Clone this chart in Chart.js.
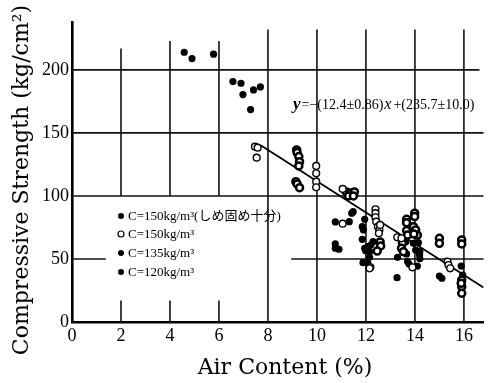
<!DOCTYPE html>
<html>
<head>
<meta charset="utf-8">
<script src="https://cdn.jsdelivr.net/npm/chart.js@4.4.1/dist/chart.umd.min.js"></script>
<style>
html,body{margin:0;padding:0;background:#fff;}
#wrap{width:490px;height:383px;position:relative;}
</style>
</head>
<body>
<div id="wrap"><canvas id="c" width="490" height="383"></canvas></div>
<script>
// ---- data ----
const xTicks = [0, 2, 4, 6, 8, 10, 12, 14, 16];
const yTicks = [0, 50, 100, 150, 200];
const xTitle = 'Air Content (%)';
const yTitle = 'Compressive Strength (kg/cm²)';
const legendLabels = ['C=150kg/m³(しめ固め十分)', 'C=150kg/m³', 'C=135kg/m³', 'C=120kg/m³'];

// C=150 kg/m3, well compacted (filled)
const s150cX = [4.58, 4.90, 5.78, 6.57, 6.90, 6.98, 7.41, 7.69, 7.29];
const s150cY = [214, 209, 212.5, 190.7, 189.4, 180.4, 184.1, 186.5, 168.5];

// C=150 kg/m3 (open)
const s150X = [7.47, 7.58, 7.54, 9.97, 9.97, 9.97, 9.97, 11.05, 11.05, 12.18, 12.15,
  12.39, 12.39, 12.39, 12.42, 12.49, 12.55, 12.58, 12.53, 13.28, 13.90, 13.45,
  15.33, 15.37, 15.44];
const s150Y = [139.1, 138.3, 130.4, 123.8, 118, 111.3, 106.9, 105.6, 78, 43.4, 42.6,
  89.4, 86.3, 83.1, 79.6, 75.6, 73, 77, 70.4, 67.2, 43.4, 66.4,
  47.9, 45.2, 42.6];

// C=135 kg/m3
const s135X = [9.17, 9.19, 9.26, 9.29, 9.26, 9.14, 9.19, 9.29,
  11.20, 11.37, 11.53, 11.29, 11.49,
  12.58, 12.60, 12.46,
  13.66, 13.66, 13.66, 13.70, 13.49, 13.45, 13.53,
  13.99, 13.99, 13.94, 14.03, 14.10, 13.96,
  15.00, 15.00,
  15.91, 15.91, 15.91, 15.91, 15.91, 15.89];
const s135Y = [136.5, 134.4, 131.2, 127.2, 123.8, 111.3, 109.5, 106.6,
  103.2, 102.4, 103.2, 100, 100,
  63.5, 60.3, 56.3,
  81.5, 78.8, 72.5, 69, 62.4, 58.5, 55.8,
  86.3, 83.6, 75.6, 73, 69, 69.8,
  66.4, 62.4,
  65.1, 61.9, 33.3, 28, 22.8, 30.7];

// C=120 kg/m3
const s120X = [11.48, 11.42, 10.75, 11.32, 10.75, 10.75, 10.90,
  11.85, 11.90, 11.85, 11.95, 11.95, 11.99, 11.88, 12.08, 12.15, 12.08, 12.20, 12.29, 12.15,
  13.29, 13.27, 13.63, 13.66, 13.70, 13.76,
  13.94, 14.03, 14.14, 14.20, 14.19, 14.20, 14.10,
  15.00, 15.10, 15.89, 15.95];
const s120Y = [87.5, 86.3, 79.4, 79.6, 61.9, 58.5, 57.7,
  75.6, 73, 65.6, 81.5, 58.5, 56.6, 47.1, 46.6, 51.3, 59.8, 61.1, 63.7, 55.8,
  51.3, 35.2, 63.7, 54, 47.9, 46,
  62.4, 57.1, 62.9, 55.8, 53.2, 50.2, 44.4,
  36.5, 34.7, 44.4, 37.3];

// regression y = -(12.4±0.86)x + (235.7±10.0)
const regSlope = -12.4;
const regIntercept = 235.7;
const regX = [7.7, 16.8];
const equationParts = ['y', '=−(12.4±0.86)', 'x', '+(235.7±10.0)'];

// ---- build ----
const pts = (xs, ys) => xs.map((x, i) => ({x: x, y: ys[i]}));
const SERIF = '"Liberation Serif", "DejaVu Serif", serif';
const TITLEF = '"DejaVu Serif", serif';

const gridPlugin = {
  id: 'grid',
  beforeDatasetsDraw(chart) {
    const ctx = chart.ctx, xs = chart.scales.x, ys = chart.scales.y;
    const ca = chart.chartArea;
    const X = v => xs.getPixelForValue(v), Y = v => ys.getPixelForValue(v);
    ctx.save();
    ctx.strokeStyle = '#111';
    ctx.lineWidth = 1.6;
    const seg = (x1, y1, x2, y2) => { ctx.beginPath(); ctx.moveTo(x1, y1); ctx.lineTo(x2, y2); ctx.stroke(); };
    // horizontal
    seg(ca.left, Y(200), ca.right - 4, Y(200));
    seg(ca.left, Y(150), ca.right, Y(150));
    seg(ca.left, Y(100), ca.right, Y(100));
    seg(ca.left, Y(50), X(1.38), Y(50));
    seg(X(8.95), Y(50), ca.right, Y(50));
    // vertical
    xTicks.forEach(v => {
      if (v === 0) return;
      if (v <= 6) {
        seg(X(v), Y(223 + (v === 2 ? -6 : 0)), X(v), Y(100));
        seg(X(v), Y(17), X(v), ca.bottom);
      } else {
        seg(X(v), Y(232), X(v), ca.bottom);
      }
    });
    ctx.restore();
  },
  afterDatasetsDraw(chart) {
    const ctx = chart.ctx;
    ctx.save();
    // legend
    const lx = 121, rows = [216, 234, 253, 272];
    ctx.textBaseline = 'middle';
    ctx.fillStyle = '#000';
    rows.forEach((ry, i) => {
      ctx.beginPath();
      ctx.arc(lx, ry, 3, 0, Math.PI * 2);
      if (i === 1) { ctx.fillStyle = '#fff'; ctx.fill(); ctx.lineWidth = 1.2; ctx.strokeStyle = '#000'; ctx.stroke(); }
      else { ctx.fillStyle = '#000'; ctx.fill(); }
      ctx.fillStyle = '#000';
      ctx.font = '13px ' + SERIF + ', "Noto Sans CJK JP"';
      ctx.fillText(legendLabels[i], lx + 7, ry + 1);
    });
    // equation
    let ex = 293; const ey = 109;
    ctx.textBaseline = 'alphabetic';
    ctx.font = 'italic bold 17px ' + SERIF;
    ctx.fillText(equationParts[0], ex, ey); ex += ctx.measureText(equationParts[0]).width + 1;
    ctx.font = '14px ' + SERIF;
    ctx.fillText(equationParts[1], ex, ey); ex += ctx.measureText(equationParts[1]).width + 1;
    ctx.font = 'italic 16px ' + SERIF;
    ctx.fillText(equationParts[2], ex, ey); ex += ctx.measureText(equationParts[2]).width + 2;
    ctx.font = '14px ' + SERIF;
    ctx.fillText(equationParts[3], ex, ey);
    // axis titles
    ctx.textAlign = 'center';
    ctx.textBaseline = 'middle';
    ctx.font = '22px ' + TITLEF;
    ctx.fillText(xTitle, 285, 368);
    ctx.translate(22, 180);
    ctx.rotate(-Math.PI / 2);
    ctx.font = '22px ' + TITLEF;
    ctx.fillText(yTitle, 0, 0);
    ctx.restore();
  }
};

new Chart(document.getElementById('c'), {
  type: 'scatter',
  data: {
    datasets: [
      {label: legendLabels[0], data: pts(s150cX, s150cY), pointRadius: 3.6, backgroundColor: '#000', borderColor: '#000', borderWidth: 0},
      {label: legendLabels[1], data: pts(s150X, s150Y), pointRadius: 3.4, backgroundColor: '#fff', borderColor: '#000', borderWidth: 1.4},
      {label: legendLabels[2], data: pts(s135X, s135Y), pointRadius: 3.5, backgroundColor: '#fff', borderColor: '#000', borderWidth: 2.5},
      {label: legendLabels[3], data: pts(s120X, s120Y), pointRadius: 3.6, backgroundColor: '#000', borderColor: '#000', borderWidth: 0},
      {type: 'line', label: 'fit', data: regX.map(x => ({x: x, y: regSlope * x + regIntercept})),
        borderColor: '#000', borderWidth: 1.8, pointRadius: 0, fill: false}
    ]
  },
  options: {
    responsive: false,
    animation: false,
    layout: {padding: {top: 22, right: 2, left: 0, bottom: 0}},
    plugins: {legend: {display: false}, tooltip: {enabled: false}},
    scales: {
      x: {
        type: 'linear', min: 0, max: 16.8,
        afterBuildTicks: s => { s.ticks = xTicks.map(v => ({value: v})); },
        afterFit: s => { s.height = 61; },
        grid: {display: false, drawTicks: false},
        border: {display: true, color: '#000', width: 2.6},
        ticks: {color: '#000', padding: 3, font: {family: SERIF, size: 18}},
        title: {display: false}
      },
      y: {
        type: 'linear', min: 0, max: 238,
        afterBuildTicks: s => { s.ticks = yTicks.map(v => ({value: v})); },
        afterFit: s => { s.width = 72; },
        grid: {display: false, drawTicks: false},
        border: {display: true, color: '#000', width: 2.6},
        ticks: {color: '#000', padding: 3, font: {family: SERIF, size: 18}},
        title: {display: false}
      }
    }
  },
  plugins: [gridPlugin]
});
</script>
</body>
</html>
